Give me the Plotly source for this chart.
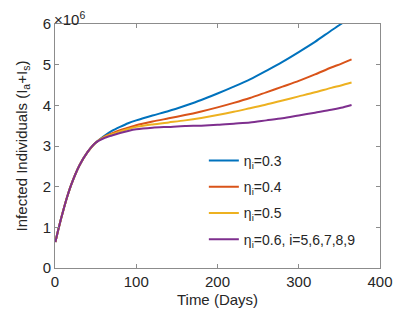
import plotly.graph_objects as go

days = [0.5, 5, 10, 15, 20, 30, 40, 50, 60, 70, 80, 90, 100, 120, 140, 160, 180, 200,
        220, 240, 260, 280, 300, 320, 340, 352, 365]
common = [0.64, 1.02, 1.40, 1.75, 2.05, 2.52, 2.85, 3.08]
eta03 = common + [3.24, 3.37, 3.47, 3.56, 3.63, 3.75, 3.86, 3.99, 4.13, 4.29,
                  4.46, 4.64, 4.85, 5.07, 5.31, 5.56, 5.84, 6.00, 6.22]
eta04 = common + [3.22, 3.31, 3.39, 3.45, 3.51, 3.60, 3.68, 3.76, 3.85, 3.95,
                  4.06, 4.18, 4.32, 4.46, 4.60, 4.76, 4.93, 5.02, 5.13]
eta05 = common + [3.21, 3.29, 3.36, 3.42, 3.47, 3.53, 3.58, 3.63, 3.69, 3.76,
                  3.84, 3.93, 4.02, 4.12, 4.22, 4.32, 4.43, 4.49, 4.56]
eta06 = common + [3.19, 3.26, 3.32, 3.37, 3.41, 3.45, 3.47, 3.49, 3.50, 3.52,
                  3.55, 3.58, 3.63, 3.68, 3.75, 3.82, 3.89, 3.94, 4.01]
names = ["η<sub>i</sub>=0.3", "η<sub>i</sub>=0.4", "η<sub>i</sub>=0.5",
         "η<sub>i</sub>=0.6, i=5,6,7,8,9"]
colors = ["#0072BD", "#D95319", "#EDB120", "#7E2F8E"]
series = [eta03, eta04, eta05, eta06]

fig = go.Figure()
for i, (vals, nm, c) in enumerate(zip(series, names, colors)):
    fig.add_trace(go.Scatter(x=days, y=[v * 1e6 for v in vals], mode="lines",
                             name=nm, line=dict(color=c, width=2, shape="spline",
                                                smoothing=0.8),
                             legendgroup=str(i)))

font = "Liberation Sans, Arial, sans-serif"
axis_common = dict(showgrid=False, zeroline=False, showline=True, linecolor="#8c8c8c",
                   linewidth=1, mirror="ticks", ticks="inside", ticklen=4,
                   tickcolor="#8c8c8c", automargin=False,
                   tickfont=dict(size=15, color="#262626", family=font))
# the page body adds an 8px offset; margins compensate for it
fig.update_layout(
    width=420, height=315,
    margin=dict(l=47, r=48, t=16, b=55),
    plot_bgcolor="white", paper_bgcolor="white",
    font=dict(family=font, color="#262626"),
    xaxis=dict(range=[0, 400], tickvals=[0, 100, 200, 300, 400],
               title=dict(text="Time (Days)", font=dict(size=15), standoff=5),
               **axis_common),
    yaxis=dict(range=[0, 6e6], tickvals=[0, 1e6, 2e6, 3e6, 4e6, 5e6, 6e6],
               ticktext=["0", "1", "2", "3", "4", "5", "6"],
               title=dict(text="Infected Individuals (I<sub>a</sub>+I<sub>s</sub>)",
                          font=dict(size=15), standoff=11),
               **axis_common),
    legend=dict(x=0.458, y=0.504, xanchor="left", yanchor="top",
                bgcolor="rgba(0,0,0,0)", font=dict(size=14, color="#262626"),
                tracegroupgap=5, itemwidth=30),
    annotations=[dict(text="×10<sup>6</sup>", xref="paper", yref="paper", x=0, y=1,
                      xanchor="left", yanchor="bottom", showarrow=False,
                      font=dict(size=15, color="#262626"), xshift=-3, yshift=-6)],
)
fig.write_html("out.html")
